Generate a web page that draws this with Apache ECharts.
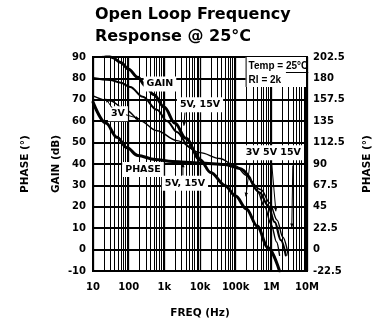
<!DOCTYPE html>
<html>
<head>
<meta charset="utf-8">
<script src="https://cdn.jsdelivr.net/npm/echarts@6/dist/echarts.min.js"></script>
<style>
  html, body { margin: 0; padding: 0; background: #fff; }
  #chart { width: 381px; height: 324px; }
</style>
</head>
<body>
<div id="chart"></div>
<script>
// Frequency axis decades and their printed labels
const freqTicks = [10, 100, 1e3, 1e4, 1e5, 1e6, 1e7];
const freqTickText = ['10', '100', '1k', '10k', '100k', '1M', '10M'];

// Open loop gain [Hz, dB]
const gain5v15v = [[10, 93.5], [20, 91.5], [35, 89.8], [60, 87.4], [100, 84.3], [180, 80.5], [300, 76.5],
  [500, 72.5], [1000, 66.5], [2000, 59], [4000, 52], [10000, 42], [20000, 36], [50000, 30],
  [100000, 25], [200000, 19], [400000, 11], [800000, 1], [1700000, -10]];
const gain3v = [[10, 80.2], [30, 79.3], [60, 78], [110, 76], [250, 71.4], [620, 65.3], [1200, 60],
  [2250, 55], [5000, 48], [10000, 42]];

// Phase [Hz, degrees]
const phase5v15v = [[10, 155], [23, 133], [47, 118], [90, 107], [180, 99], [550, 94.7], [1700, 92.6],
  [10000, 91], [50000, 89.5], [130000, 85.3], [250000, 75]];
const phase5vTail = [[250000, 75], [476000, 60], [794000, 46.6], [1250000, 28.8], [1850000, 10], [2550000, -6]];
const phase15vTail = [[250000, 75], [520000, 63], [900000, 49], [1450000, 31], [2100000, 13], [3000000, -6]];
const phase3v = [[10, 161.7], [30, 156.5], [90, 146], [210, 135.5], [620, 125], [2250, 114.6], [10000, 102],
  [36000, 95.8], [100000, 88], [200000, 78], [400000, 62], [650000, 45], [1000000, 26], [1400000, 8], [1700000, -6]];

// Curve captions [Hz, dB, text, align]
const notes = [
  [753, 77.4, 'GAIN', 'center'],
  [10000, 67.7, '5V, 15V', 'center'],
  [50, 63.5, '3V', 'center'],
  [252, 37.4, 'PHASE', 'center'],
  [3780, 31, '5V, 15V', 'center'],
  [158000, 45.3, '3V 5V 15V', 'left']
];

// Pointer lines from captions to curves [[Hz, dB], [Hz, dB]]
const leaders = [
  [[84, 63.0], [194, 61.2]],
  [[34, 66.3], [23, 70.5]],
  [[3780, 64], [3540, 57.9]],
  [[3320, 34.7], [3320, 40.2]],
  [[250000, 39.8], [193000, 24.9]],
  [[1030000, 39.8], [1340000, 17.9]],
  [[4000000, 39.3], [3750000, 10.5]]
];

// Test conditions box
const condLines = ['Temp = ', '25°C', 'Rl = 2k'];

// Intermediate log grid lines (2..9 in each decade)
const minorFreqs = [];
for (let d = 10; d < 1e7; d *= 10) {
  for (let k = 2; k <= 9; k++) minorFreqs.push([d * k]);
}

const LABEL_FONT = '"DejaVu Sans", sans-serif';
const BOLD10 = 'bold 9.5px "DejaVu Sans", sans-serif';

function curve(name, data, width, yIdx) {
  return {
    name, type: 'line', data, yAxisIndex: yIdx, symbol: 'none',
    smooth: 0.35, smoothMonotone: 'x', z: 3, silent: true,
    lineStyle: { color: '#000', width, cap: 'round', join: 'round' }
  };
}

const chart = echarts.init(document.getElementById('chart'), null, { renderer: 'canvas' });

const measureCtx = document.createElement('canvas').getContext('2d');

const axisNameStyle = { fontFamily: LABEL_FONT, fontWeight: 'bold', fontSize: 10.5, color: '#000' };

chart.setOption({
  animation: false,
  backgroundColor: '#fff',
  title: {
    text: 'Open Loop Frequency\nResponse @ 25°C',
    left: 95, top: 4, padding: 0,
    textStyle: { fontFamily: LABEL_FONT, fontWeight: 'bold', fontSize: 16, lineHeight: 22, color: '#000' }
  },
  grid: { left: 93, right: 74, top: 57, bottom: 53, show: true, borderColor: '#000', borderWidth: 2 },
  xAxis: {
    type: 'log', logBase: 10, min: 10, max: 1e7, splitNumber: 6,
    name: 'FREQ (Hz)', nameLocation: 'middle', nameGap: 37, nameTextStyle: axisNameStyle,
    axisLine: { show: true, lineStyle: { color: '#000', width: 2 } },
    axisTick: { show: false },
    splitLine: { show: true, lineStyle: { color: '#000', width: 1.3 } },
    axisLabel: {
      color: '#000', fontFamily: LABEL_FONT, fontWeight: 'bold', fontSize: 10, margin: 11,
      formatter: v => {
        const i = freqTicks.findIndex(t => Math.abs(Math.log10(t / v)) < 1e-6);
        return i >= 0 ? freqTickText[i] : '';
      }
    }
  },
  yAxis: [
    {
      type: 'value', position: 'left', min: -10, max: 90, interval: 10,
      name: 'GAIN (dB)', nameLocation: 'middle', nameGap: 31, nameRotate: 90,
      nameMoveOverlap: false, nameTextStyle: axisNameStyle,
      axisLine: { show: true, lineStyle: { color: '#000', width: 2 } },
      axisTick: { show: false },
      splitLine: { show: true, lineStyle: { color: '#000', width: 2 } },
      axisLabel: { color: '#000', fontFamily: LABEL_FONT, fontWeight: 'bold', fontSize: 10, margin: 7 }
    },
    {
      type: 'value', position: 'right', min: -22.5, max: 202.5, interval: 22.5,
      name: 'PHASE (°)', nameLocation: 'middle', nameGap: 55, nameRotate: 90,
      nameTextStyle: axisNameStyle,
      axisLine: { show: true, lineStyle: { color: '#000', width: 2 } },
      axisTick: { show: false },
      splitLine: { show: false },
      axisLabel: { color: '#000', fontFamily: LABEL_FONT, fontWeight: 'bold', fontSize: 10, margin: 6,
        formatter: v => String(v) }
    },
    {
      type: 'value', position: 'left', min: -22.5, max: 202.5, interval: 22.5,
      name: 'PHASE (°)', nameLocation: 'middle', nameGap: 62, nameRotate: 90,
      nameMoveOverlap: false, nameTextStyle: axisNameStyle,
      axisLine: { show: false }, axisTick: { show: false },
      splitLine: { show: false }, axisLabel: { show: false }
    }
  ],
  series: [
    {
      name: 'minor grid', type: 'custom', data: minorFreqs, z: 1, silent: true, clip: true,
      encode: { x: 0 },
      renderItem: (params, api) => {
        const cs = params.coordSys;
        const x = Math.round(api.coord([api.value(0), 0])[0]) + 0.5;
        return { type: 'line', shape: { x1: x, y1: cs.y, x2: x, y2: cs.y + cs.height },
          style: { stroke: '#000', lineWidth: 1 } };
      }
    },
    curve('Gain 5V, 15V', gain5v15v, 3, 0),
    curve('Gain 3V', gain3v, 2, 0),
    curve('Phase 5V, 15V', phase5v15v, 3, 1),
    curve('Phase 5V', phase5vTail, 2.2, 1),
    curve('Phase 15V', phase15vTail, 1.4, 1),
    curve('Phase 3V', phase3v, 1.4, 1),
    {
      name: 'conditions', type: 'custom', z: 5, silent: true,
      data: [[190000, 90], [1e7, 76]],
      encode: { x: 0, y: 1 },
      renderItem: (params, api) => {
        if (params.dataIndex !== 0) return null;
        const a = api.coord([190000, 90]);
        const b = api.coord([1e7, 76]);
        const font = 'bold 10px "Liberation Sans", Arial, sans-serif';
        measureCtx.font = font;
        const x0 = a[0] + 3;
        const w1 = measureCtx.measureText(condLines[0]).width;
        const w2 = measureCtx.measureText(condLines[1]).width;
        const y1 = a[1] + 9, y2 = a[1] + 23;
        return {
          type: 'group', children: [
            { type: 'rect', shape: { x: a[0], y: a[1], width: b[0] - a[0] - 1, height: b[1] - a[1] },
              style: { fill: '#fff' } },
            { type: 'line', shape: { x1: a[0] + 0.5, y1: a[1], x2: a[0] + 0.5, y2: b[1] },
              style: { stroke: '#000', lineWidth: 1 } },
            { type: 'text', x: x0, y: y1, style: { text: condLines[0] + condLines[1], font, fill: '#000',
              align: 'left', verticalAlign: 'middle' } },
            { type: 'line', shape: { x1: x0 + w1, y1: y1 + 6.5, x2: x0 + w1 + w2, y2: y1 + 6.5 },
              style: { stroke: '#000', lineWidth: 1 } },
            { type: 'text', x: x0, y: y2, style: { text: condLines[2], font, fill: '#000',
              align: 'left', verticalAlign: 'middle' } }
          ]
        };
      }
    },
    {
      name: 'captions', type: 'custom', z: 6, silent: true,
      data: notes.map(n => [n[0], n[1]]),
      encode: { x: 0, y: 1 },
      renderItem: (params, api) => {
        const n = notes[params.dataIndex];
        const p = api.coord([n[0], n[1]]);
        return { type: 'text', x: p[0], y: p[1], style: {
          text: n[2], font: BOLD10, fill: '#000', align: n[3], verticalAlign: 'middle',
          backgroundColor: '#fff', padding: [3, 3, 2, 3] } };
      }
    },
    {
      name: 'pointers', type: 'custom', z: 7, silent: true,
      data: leaders.map(l => [l[0][0], l[0][1]]),
      encode: { x: 0, y: 1 },
      renderItem: (params, api) => {
        const l = leaders[params.dataIndex];
        const p1 = api.coord(l[0]);
        const p2 = api.coord(l[1]);
        const ang = Math.atan2(p2[1] - p1[1], p2[0] - p1[0]);
        const s = 4;
        const left = [p2[0] - s * Math.cos(ang - 0.45), p2[1] - s * Math.sin(ang - 0.45)];
        const right = [p2[0] - s * Math.cos(ang + 0.45), p2[1] - s * Math.sin(ang + 0.45)];
        return { type: 'group', children: [
          { type: 'line', shape: { x1: p1[0], y1: p1[1], x2: p2[0], y2: p2[1] },
            style: { stroke: '#000', lineWidth: 1 } },
          { type: 'polygon', shape: { points: [p2, left, right] }, style: { fill: '#000' } }
        ] };
      }
    }
  ]
});
</script>
</body>
</html>
